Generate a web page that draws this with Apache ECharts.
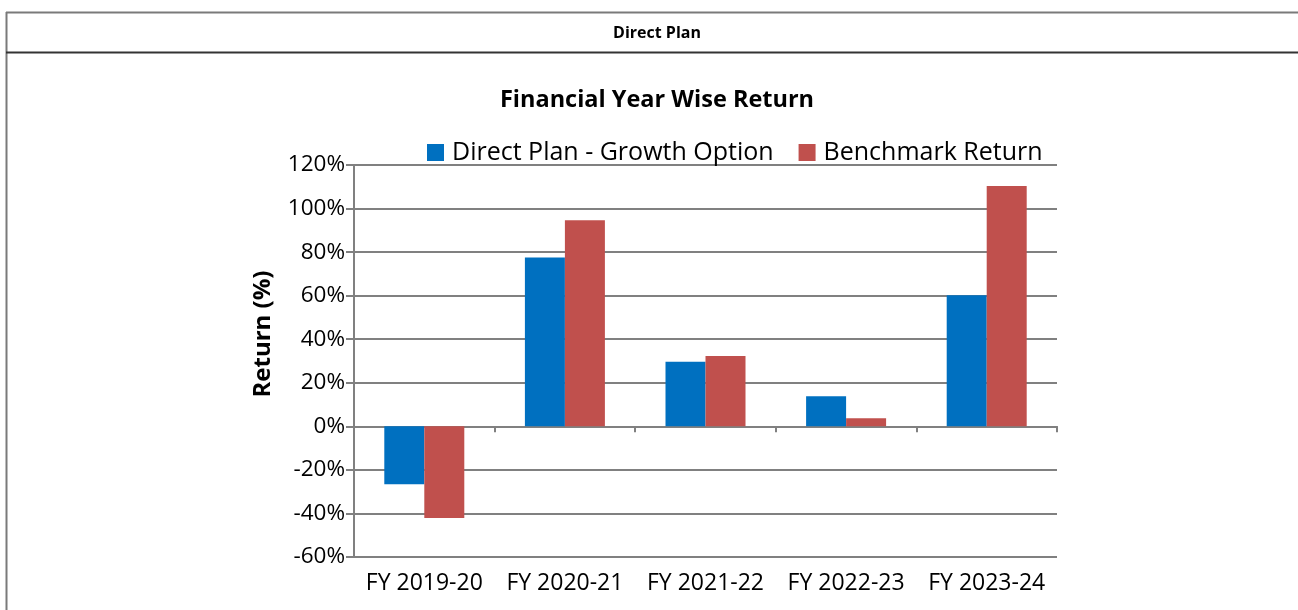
<!DOCTYPE html>
<html>
<head>
<meta charset="utf-8">
<script src="https://cdn.jsdelivr.net/npm/echarts@6/dist/echarts.min.js"></script>
<style>
html,body{margin:0;padding:0;background:#fff;}
#chart{width:1298px;height:610px;}
</style>
</head>
<body>
<div id="chart"></div>
<script>
var categories = ['FY 2019-20', 'FY 2020-21', 'FY 2021-22', 'FY 2022-23', 'FY 2023-24'];
var directPlan = [-26.6, 77.5, 29.7, 13.8, 60.2];
var benchmark = [-42.1, 94.6, 32.3, 3.7, 110.4];
var seriesNames = ['Direct Plan - Growth Option', 'Benchmark Return'];
var yTicks = { min: -60, max: 120, step: 20 };

var FONT = '"Open Sans", "Noto Sans", sans-serif';
var chart = echarts.init(document.getElementById('chart'), null, { renderer: 'canvas' });

chart.setOption({
  animation: false,
  backgroundColor: '#ffffff',
  graphic: [
    { type: 'line', shape: { x1: 6, y1: 12.5, x2: 1298, y2: 12.5 }, style: { stroke: '#7a7a7a', lineWidth: 2 } },
    { type: 'line', shape: { x1: 6.5, y1: 12, x2: 6.5, y2: 610 }, style: { stroke: '#7a7a7a', lineWidth: 2 } },
    { type: 'line', shape: { x1: 6, y1: 52.5, x2: 1298, y2: 52.5 }, style: { stroke: '#333333', lineWidth: 2 } },
    { type: 'text', x: 657, y: 33, style: { text: 'Direct Plan', font: 'bold 16px ' + FONT, fill: '#000', textAlign: 'center', textVerticalAlign: 'middle' } },
    { type: 'text', x: 657, y: 100, style: { text: 'Financial Year Wise Return', font: 'bold 23.5px ' + FONT, fill: '#000', textAlign: 'center', textVerticalAlign: 'middle' } },
    { type: 'text', x: 263, y: 334, rotation: Math.PI / 2, style: { text: 'Return (%)', font: 'bold 24px ' + FONT, fill: '#000', textAlign: 'center', textVerticalAlign: 'middle' } }
  ],
  legend: {
    left: 427,
    top: 140,
    padding: 0,
    itemWidth: 17,
    itemHeight: 17,
    itemGap: 25,
    icon: 'rect',
    textStyle: { fontFamily: FONT, fontSize: 25, color: '#000', padding: [0, 0, 0, 3] },
    data: seriesNames
  },
  grid: { left: 354, right: 241, top: 165, bottom: 53, containLabel: false },
  xAxis: [
    {
      type: 'category',
      data: categories,
      axisLine: { onZero: true, lineStyle: { color: '#808080', width: 2 } },
      axisTick: { show: true, length: 6, alignWithLabel: false, lineStyle: { color: '#808080', width: 2 } },
      axisLabel: { show: false }
    },
    {
      type: 'category',
      data: categories,
      position: 'bottom',
      axisLine: { show: false, onZero: false },
      axisTick: { show: false },
      axisLabel: { show: true, interval: 0, margin: 15, fontFamily: FONT, fontSize: 23, color: '#000' }
    }
  ],
  yAxis: {
    type: 'value',
    min: yTicks.min,
    max: yTicks.max,
    interval: yTicks.step,
    axisLine: { show: true, lineStyle: { color: '#808080', width: 2 } },
    axisTick: { show: true, length: 8, lineStyle: { color: '#808080', width: 2 } },
    axisLabel: { formatter: '{value}%', fontFamily: FONT, fontSize: 22.5, color: '#000', margin: 9 },
    splitLine: { show: true, lineStyle: { color: '#808080', width: 2 } }
  },
  series: [
    {
      name: seriesNames[0],
      type: 'bar',
      xAxisIndex: 0,
      data: directPlan,
      barWidth: 40,
      barGap: '0%',
      itemStyle: { color: '#0070C0' }
    },
    {
      name: seriesNames[1],
      type: 'bar',
      xAxisIndex: 0,
      data: benchmark,
      barWidth: 40,
      barGap: '0%',
      itemStyle: { color: '#C0504D' }
    }
  ]
});
</script>
</body>
</html>
